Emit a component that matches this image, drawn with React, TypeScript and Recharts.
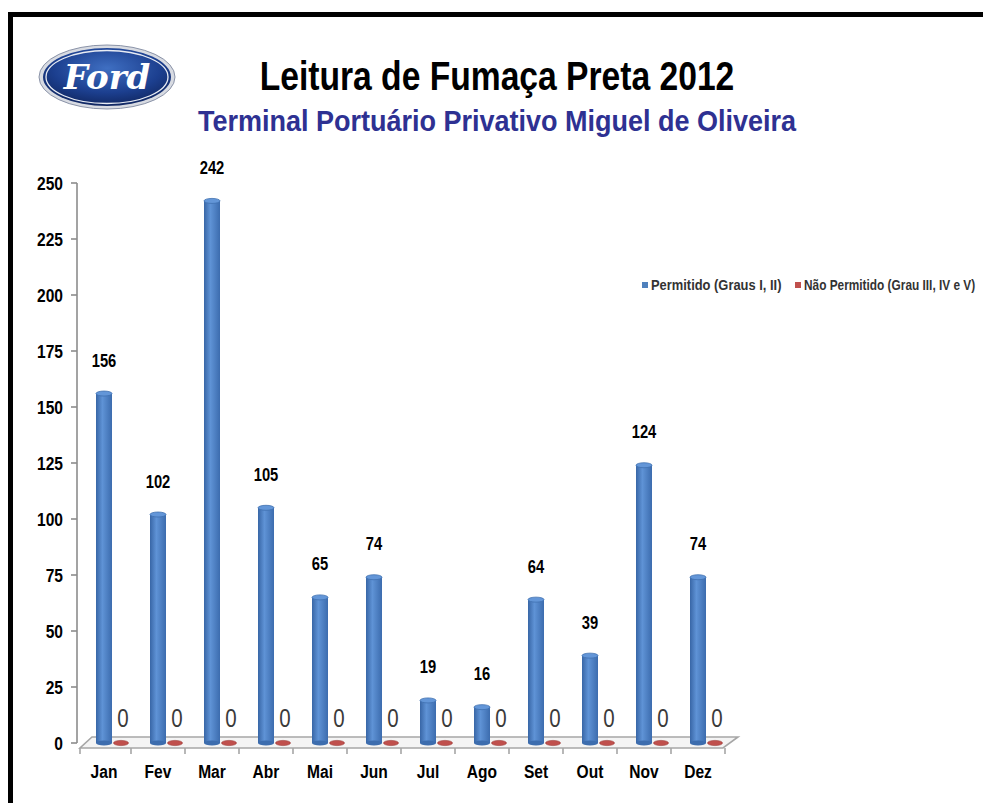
import React from "react";
import {
  BarChart,
  Bar,
  XAxis,
  YAxis,
  LabelList,
  Legend,
  ReferenceArea,
} from "recharts";

const months = ["Jan", "Fev", "Mar", "Abr", "Mai", "Jun", "Jul", "Ago", "Set", "Out", "Nov", "Dez"];
const permitido = [156, 102, 242, 105, 65, 74, 19, 16, 64, 39, 124, 74];
const naoPermitido = [0, 0, 0, 0, 0, 0, 0, 0, 0, 0, 0, 0];
const yTicks = [0, 25, 50, 75, 100, 125, 150, 175, 200, 225, 250];

const data = months.map((m, i) => ({
  month: m,
  permitido: permitido[i],
  naoPermitido: naoPermitido[i],
}));

// no Arial Narrow here, so squeeze Liberation Sans horizontally
const FONT = "'Liberation Sans', Arial, sans-serif";
const SQUEEZE = 0.82;

const NarrowText = ({ x, y, children, anchor = "middle", size, weight = "bold", fill = "#000", dy = "0" }: any) => (
  <text
    transform={`translate(${x},${y}) scale(${SQUEEZE},1)`}
    x={0}
    y={0}
    dy={dy}
    textAnchor={anchor}
    fontFamily={FONT}
    fontSize={size}
    fontWeight={weight}
    fill={fill}
  >
    {children}
  </text>
);

const XTick = (props: any) => (
  <NarrowText x={props.x} y={props.y} size={19} dy="0.71em">
    {props.payload.value}
  </NarrowText>
);

const YTick = (props: any) => (
  <NarrowText x={props.x} y={props.y} size={19} anchor="end" dy="0.355em">
    {props.payload.value}
  </NarrowText>
);

const ValueLabel = (props: any) => {
  const { x, y, width, value } = props;
  return (
    <NarrowText x={x + width / 2} y={y - 27} size={18}>
      {value}
    </NarrowText>
  );
};

const ZeroLabel = (props: any) => {
  const { x, y, width, value } = props;
  return (
    <NarrowText x={x + width / 2 + 2} y={y - 16} size={25} weight="normal" fill="#3a3a3a">
      {value}
    </NarrowText>
  );
};

// blue cylinder
const Cylinder = (props: any) => {
  const { x, y, width, height } = props;
  if (height == null || width == null) return null;
  const rx = width / 2;
  const ry = 2.5;
  const cx = x + rx;
  return (
    <g>
      <rect x={x} y={y} width={width} height={height} fill="url(#cylGrad)" />
      <ellipse cx={cx} cy={y + height} rx={rx} ry={ry} fill="#3d6dae" />
      <ellipse cx={cx} cy={y} rx={rx} ry={ry} fill="#6396d8" stroke="#3f70b0" strokeWidth={0.8} />
    </g>
  );
};

// flat red disc for the zero series
const Disc = (props: any) => {
  const { x, y, width, height } = props;
  if (width == null) return null;
  return (
    <ellipse
      cx={x + width / 2}
      cy={y + (height || 0)}
      rx={width / 2 - 0.5}
      ry={2.6}
      fill="#c0504d"
      stroke="#9c3a37"
      strokeWidth={0.6}
    />
  );
};

const Floor = (props: any) => {
  const { x, y, width, height } = props;
  const front = y + height + 5;
  const back = y + height - 6;
  const n = months.length;
  const step = width / n;
  return (
    <g>
      <polygon
        points={`${x + 3},${front} ${x + width - 2},${front} ${x + width + 13},${back} ${x + 15},${back}`}
        fill="#f4f4f4"
        stroke="#a6a6a6"
        strokeWidth={1.6}
      />
      {Array.from({ length: n + 1 }, (_, i) => (
        <line
          key={i}
          x1={Math.max(x + 3, x + i * step)}
          x2={Math.max(x + 3, x + i * step)}
          y1={front}
          y2={front + 6}
          stroke="#a6a6a6"
          strokeWidth={1.6}
        />
      ))}
    </g>
  );
};

const legendText = {
  display: "inline-block",
  transform: "scaleX(0.86)",
  transformOrigin: "left center",
};

const LegendContent = () => (
  <div style={{ fontFamily: FONT, fontWeight: "bold", fontSize: 15, color: "#333", whiteSpace: "nowrap", display: "flex", alignItems: "center" }}>
    <span style={{ display: "inline-block", width: 6, height: 6, background: "#4f81bd", marginRight: 3 }} />
    <span style={{ ...legendText, width: 144 }}>Permitido (Graus I, II)</span>
    <span style={{ display: "inline-block", width: 6, height: 6, background: "#c0504d", marginRight: 3 }} />
    <span style={{ ...legendText, transform: "scaleX(0.79)" }}>Não Permitido (Grau III, IV e V)</span>
  </div>
);

const FordLogo = () => (
  <svg width={150} height={80} style={{ position: "absolute", left: 33, top: 38 }}>
    <defs>
      <radialGradient id="fordGrad" cx="50%" cy="35%" r="70%">
        <stop offset="0%" stopColor="#3f6fc2" />
        <stop offset="60%" stopColor="#1c3f8f" />
        <stop offset="100%" stopColor="#0e2258" />
      </radialGradient>
    </defs>
    <ellipse cx={74} cy={39} rx={68} ry={32} fill="#d8dbe2" stroke="#8a93a8" strokeWidth={1} />
    <ellipse cx={74} cy={39} rx={64} ry={29} fill="url(#fordGrad)" />
    <ellipse cx={74} cy={39} rx={61} ry={26.5} fill="none" stroke="#e8ecf4" strokeWidth={1.3} />
    <text
      x={74}
      y={51}
      textAnchor="middle"
      fill="#ffffff"
      fontFamily="'DejaVu Serif', serif"
      fontStyle="italic"
      fontWeight="bold"
      fontSize={34}
    >
      Ford
    </text>
  </svg>
);

const titleBase = {
  position: "absolute" as const,
  left: 0,
  width: 994,
  textAlign: "center" as const,
  fontFamily: FONT,
  fontWeight: "bold" as const,
  transformOrigin: "497px 0",
};

export default function App() {
  return (
    <div style={{ position: "absolute", left: 0, top: 0, width: 983, height: 803, overflow: "hidden", background: "#fff" }}>
      <div
        style={{
          position: "absolute",
          left: 8,
          top: 12,
          width: 1010,
          height: 830,
          border: "5px solid #000",
          boxSizing: "border-box",
        }}
      />
      <FordLogo />
      <div style={{ ...titleBase, top: 52, fontSize: 41, lineHeight: "48px", color: "#000", transform: "scaleX(0.82)" }}>
        Leitura de Fumaça Preta 2012
      </div>
      <div style={{ ...titleBase, top: 103, fontSize: 30, lineHeight: "36px", color: "#2e3192", transform: "scaleX(0.9)" }}>
        Terminal Portuário Privativo Miguel de Oliveira
      </div>
      <div style={{ position: "absolute", left: 0, top: 0 }}>
        <BarChart
          width={983}
          height={803}
          data={data}
          margin={{ top: 183, right: 258, bottom: 0, left: 17 }}
          barSize={16}
          barGap={1}
          barCategoryGap={0}
        >
          <defs>
            <linearGradient id="cylGrad" x1="0" y1="0" x2="1" y2="0">
              <stop offset="0%" stopColor="#3866a6" />
              <stop offset="40%" stopColor="#5f93d6" />
              <stop offset="100%" stopColor="#3c6cae" />
            </linearGradient>
          </defs>
          <ReferenceArea y1={0} y2={5} ifOverflow="visible" shape={<Floor />} />
          <XAxis
            dataKey="month"
            height={60}
            axisLine={false}
            tickLine={false}
            tickSize={6}
            tickMargin={16}
            interval={0}
            tick={<XTick />}
          />
          <YAxis
            width={60}
            domain={[0, 250]}
            ticks={yTicks}
            interval={0}
            axisLine={{ stroke: "#8c8c8c", strokeWidth: 1.6 }}
            tickLine={{ stroke: "#8c8c8c", strokeWidth: 1.6 }}
            tickSize={6}
            tickMargin={8}
            tick={<YTick />}
          />
          <Legend
            layout="horizontal"
            verticalAlign="middle"
            align="center"
            content={<LegendContent />}
            wrapperStyle={{ top: 276, left: 642, width: 400 }}
          />
          <Bar dataKey="spacer" legendType="none" isAnimationActive={false} />
          <Bar dataKey="permitido" name="Permitido (Graus I, II)" fill="#4f81bd" shape={<Cylinder />} isAnimationActive={false}>
            <LabelList dataKey="permitido" content={<ValueLabel />} />
          </Bar>
          <Bar dataKey="naoPermitido" name="Não Permitido (Grau III, IV e V)" fill="#c0504d" shape={<Disc />} isAnimationActive={false}>
            <LabelList dataKey="naoPermitido" content={<ZeroLabel />} />
          </Bar>
        </BarChart>
      </div>
    </div>
  );
}
